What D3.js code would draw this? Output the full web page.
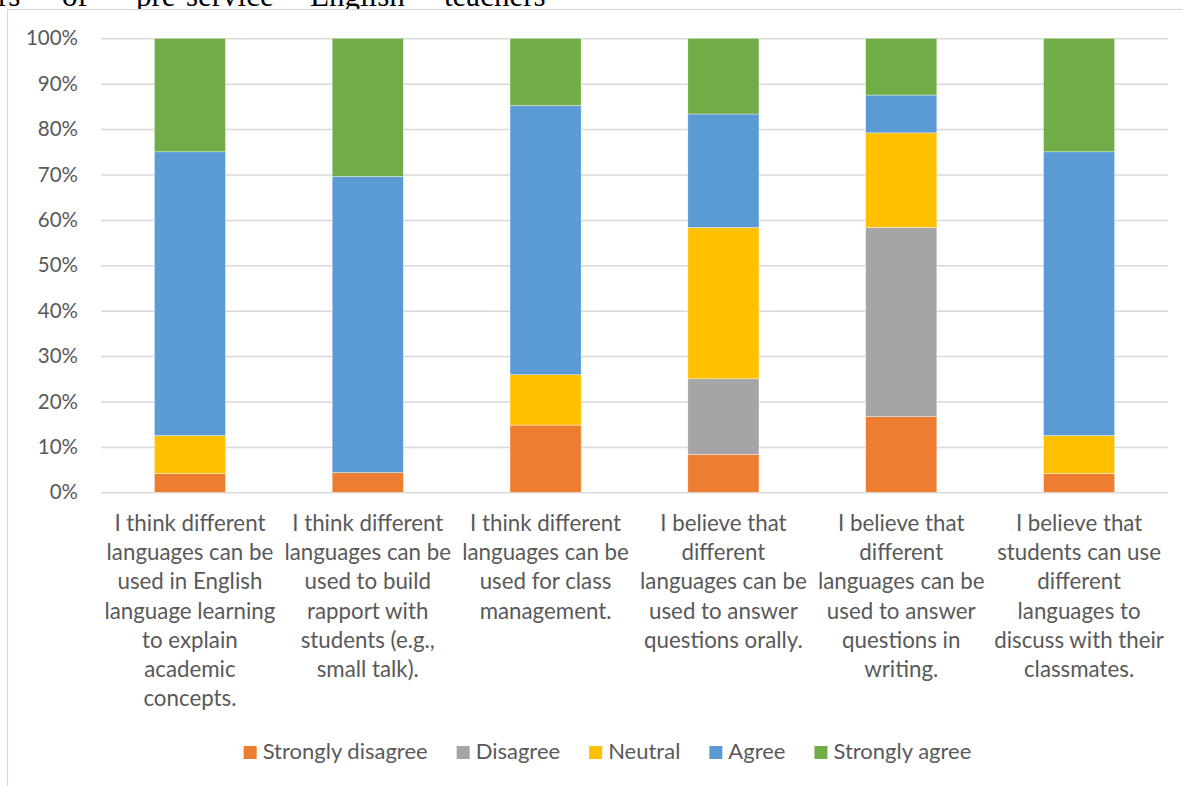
<!DOCTYPE html>
<html>
<head>
<meta charset="utf-8">
<script src="https://cdn.jsdelivr.net/npm/d3@7"></script>
<style>
  html, body { margin: 0; padding: 0; background: #fff; }
  svg { display: block; }
</style>
</head>
<body>
<svg id="chart" width="1183" height="786"></svg>
<script>
const categories = [
  "I think different languages can be used in English language learning to explain academic concepts.",
  "I think different languages can be used to build rapport with students (e.g., small talk).",
  "I think different languages can be used for class management.",
  "I believe that different languages can be used to answer questions orally.",
  "I believe that different languages can be used to answer questions in writing.",
  "I believe that students can use different languages to discuss with their classmates."
];
const categoryLines = [
  ["I think different", "languages can be", "used in English", "language learning", "to explain", "academic", "concepts."],
  ["I think different", "languages can be", "used to build", "rapport with", "students (e.g.,", "small talk)."],
  ["I think different", "languages can be", "used for class", "management."],
  ["I believe that", "different", "languages can be", "used to answer", "questions orally."],
  ["I believe that", "different", "languages can be", "used to answer", "questions in", "writing."],
  ["I believe that", "students can use", "different", "languages to", "discuss with their", "classmates."]
];
const seriesNames = ["Strongly disagree", "Disagree", "Neutral", "Agree", "Strongly agree"];
const stronglyDisagree = [4.17, 4.35, 14.8, 8.33, 16.67, 4.17];
const disagree         = [0,    0,    0,    16.67, 41.67, 0];
const neutral          = [8.33, 0,    11.1, 33.33, 20.83, 8.33];
const agree            = [62.5, 65.22, 59.3, 25,   8.33, 62.5];
const stronglyAgree    = [25,   30.43, 14.8, 16.67, 12.5, 25];
const yTicks = [0, 0.1, 0.2, 0.3, 0.4, 0.5, 0.6, 0.7, 0.8, 0.9, 1];
const colors = ["#ED7D31", "#A5A5A5", "#FFC000", "#5B9BD5", "#70AD47"];
const headingWords = [["rs", -2], ["of", 62], ["pre-service", 136], ["English", 310], ["teachers", 444]];

(function () {
const seriesValues = [stronglyDisagree, disagree, neutral, agree, stronglyAgree];
const rows = categories.map((c, i) => {
  const r = { category: c };
  seriesNames.forEach((s, j) => r[s] = seriesValues[j][i]);
  return r;
});

const svg = d3.select("#chart");
const font = "Lato, 'Open Sans', sans-serif";
const textColor = "#595959";

// heading fragment (cut off at top, as in the reference)
const head = svg.append("g");
headingWords.forEach(([w, hx]) => {
  head.append("text").attr("x", hx).attr("y", 6)
    .attr("font-family", "'Liberation Serif', 'Times New Roman', serif")
    .attr("font-size", 31).attr("fill", "#000").text(w);
});

// chart border
svg.append("rect").attr("x", 7.5).attr("y", 9.5).attr("width", 1300).attr("height", 900)
  .attr("fill", "#fff").attr("stroke", "#d9d9d9").attr("stroke-width", 1.2);

const pl = 101, pr = 1168, pt = 38.3, pb = 492.3;
const x = d3.scaleBand().domain(categories).range([pl, pr]).paddingInner(0.6).paddingOuter(0.3);
const y = d3.scaleLinear().domain([0, 1]).range([pb, pt]);

const stack = d3.stack().keys(seriesNames).offset(d3.stackOffsetExpand);
const stacked = stack(rows);

// gridlines + y labels
const yAxis = d3.axisLeft(y).tickValues(yTicks).tickFormat(d3.format(".0%")).tickSize(-(pr - pl)).tickPadding(23);
const gy = svg.append("g").attr("transform", `translate(${pl},0)`).call(yAxis);
gy.select(".domain").remove();
gy.selectAll(".tick line").attr("stroke", "#d9d9d9").attr("stroke-width", 1.5);
gy.selectAll(".tick text").attr("font-family", font).attr("font-size", 20.5).attr("fill", textColor);

// bars
const layers = svg.append("g").selectAll("g").data(stacked).join("g")
  .attr("fill", (d, i) => colors[i]);
layers.selectAll("rect").data(d => d).join("rect")
  .attr("x", d => x(d.data.category))
  .attr("width", x.bandwidth())
  .attr("y", d => y(d[1]))
  .attr("height", d => Math.max(0, y(d[0]) - y(d[1])))
  .attr("stroke", "#fff").attr("stroke-width", 0.6).attr("stroke-opacity", 0.6);

// category labels
const lab = svg.append("g");
categories.forEach((c, i) => {
  const cx = x(c) + x.bandwidth() / 2;
  const t = lab.append("text").attr("text-anchor", "middle")
    .attr("font-family", font).attr("font-size", 22.3).attr("fill", textColor);
  categoryLines[i].forEach((ln, k) => {
    t.append("tspan").attr("x", cx).attr("y", 531 + k * 29.2).text(ln);
  });
});

// legend
const lg = svg.append("g");
const items = seriesNames.map((s, i) => {
  const g = lg.append("g");
  g.append("rect").attr("x", 0).attr("y", -13).attr("width", 13).attr("height", 13).attr("fill", colors[i]);
  const t = g.append("text").attr("x", 19).attr("y", 0).attr("font-family", font).attr("font-size", 22)
    .attr("fill", textColor).text(s);
  return { g, w: 19 + t.node().getComputedTextLength() };
});
const gap = 29;
const total = d3.sum(items, d => d.w) + gap * (items.length - 1);
let lx = 607.5 - total / 2;
items.forEach(it => { it.g.attr("transform", `translate(${lx},759)`); lx += it.w + gap; });
})();
</script>
</body>
</html>
